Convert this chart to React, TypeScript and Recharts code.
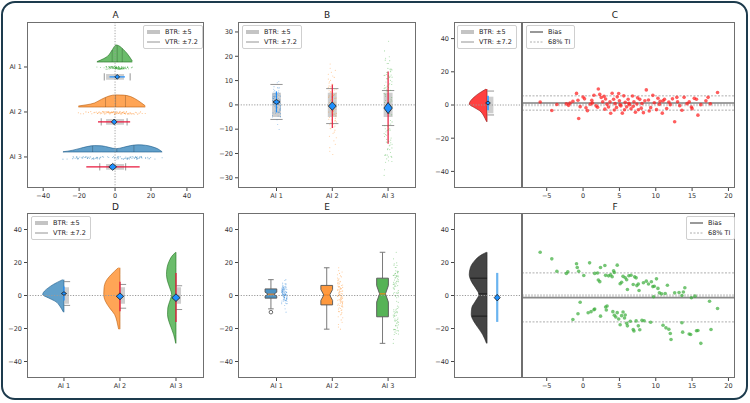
import React from "react";
import {
  ComposedChart,
  Area,
  Line,
  Scatter,
  XAxis,
  YAxis,
  ReferenceLine,
  ReferenceArea,
} from "recharts";

// groups and summary statistics
const GROUPS = ["AI 1", "AI 2", "AI 3"];
const MEANS = [1.2, -0.5, -1.3];
const TI_LOW = [-3.1, -9.5, -16.0];
const TI_HIGH = [5.5, 8.4, 13.7];
const BTR = 5;
const VTR = 7.2;
const QUARTILES = [
  [-1.6, 1.2, 4.0],
  [-5.3, 0.3, 5.8],
  [-12.5, 1.0, 10.5],
];

// kernel density outlines: [value, relative width]
const DENS_AI1 = [
  [-10.1, 0.02], [-9.5, 0.05], [-6.5, 0.19], [-3.4, 0.42], [-1.4, 0.74],
  [0.6, 1.0], [2.6, 0.92], [4.6, 0.74], [6.7, 0.5], [9.6, 0.06],
];
const DENS_AI2 = [
  [-20.4, 0.08], [-19.6, 0.1], [-15.6, 0.19], [-11.5, 0.33], [-7.5, 0.64],
  [-3.4, 0.9], [0.6, 1.0], [4.6, 0.98], [8.7, 0.86], [12.7, 0.54], [16.8, 0.1],
];
const DENS_AI3 = [
  [-29.0, 0.03], [-23.6, 0.25], [-19.6, 0.5], [-15.6, 0.75], [-11.5, 0.89],
  [-7.5, 0.86], [-3.4, 0.65], [0.6, 0.46], [4.6, 0.65], [8.7, 0.89],
  [12.7, 1.0], [16.8, 0.94], [20.8, 0.72], [24.8, 0.29], [26.2, 0.03],
];
const DENSITIES = [DENS_AI1, DENS_AI2, DENS_AI3];

// notched box plot statistics
const BOX_LO = [-8.1, -20.4, -29.0];
const BOX_Q1 = [-1.6, -5.7, -12.9];
const BOX_MED = [0.8, 0.3, 1.0];
const BOX_Q3 = [4.0, 6.1, 10.5];
const BOX_HI = [9.6, 16.8, 26.2];
const BOX_NOTCH = [1.2, 3.3, 5.0];
const FLIERS = [[-10.1], [], []];

// difference plots [x, y]
const C_POINTS = [
  [-5.9, 1.8], [-4.3, -3.3], [-3.6, 0.3], [-2.3, 0.7], [-2.0, -0.2], [-1.8, 1.1], [-1.4, 2.3], [-0.9, 7.0], [-0.7, 2.9], [-0.6, -8.1],
  [-0.4, -1.0], [0.0, 4.8], [0.2, 3.7], [0.4, -1.7], [0.6, -3.4], [1.0, 0.5], [1.2, 2.8], [1.3, 1.2], [1.5, 5.9], [1.8, -0.5],
  [2.0, -1.4], [2.1, 9.6], [2.3, 6.4], [2.5, 4.5], [2.7, 2.0], [2.9, 5.2], [3.0, -2.5], [3.1, 3.6], [3.3, 0.4], [3.5, -1.2],
  [3.7, 1.9], [3.8, -5.0], [4.0, 7.1], [4.2, 3.5], [4.3, -3.0], [4.4, 0.8], [4.6, -1.5], [4.7, 4.9], [4.9, 6.9], [5.0, 2.6],
  [5.1, 0.2], [5.2, -0.5], [5.4, -4.9], [5.6, 5.5], [5.7, -2.9], [5.8, 1.6], [6.0, -1.1], [6.2, 3.5], [6.3, 1.0], [6.4, 0.2],
  [6.6, -2.3], [6.8, 5.4], [6.9, -0.8], [7.0, 2.0], [7.2, -4.4], [7.4, 0.6], [7.5, 4.3], [7.6, -2.9], [7.8, 3.4], [8.0, -1.9],
  [8.1, 0.9], [8.3, -4.6], [8.5, 2.6], [8.7, 9.1], [9.0, 3.0], [9.1, -3.6], [9.3, -1.6], [9.6, 5.8], [9.8, 1.4], [10.1, -2.8],
  [10.3, 4.1], [10.5, 0.4], [10.6, 2.3], [10.9, -4.9], [11.0, 2.5], [11.2, 3.4], [11.5, -2.1], [11.8, 1.8], [12.0, 0.2], [12.3, 3.7],
  [12.6, -10.1], [12.9, 4.6], [13.0, 2.0], [13.3, -0.4], [13.6, -3.2], [13.9, 4.6], [14.3, 0.8], [14.6, 1.9], [14.9, -1.2], [15.0, -2.2],
  [15.3, 4.0], [15.6, 3.5], [15.8, -6.1], [16.2, 0.2], [16.9, 2.5], [17.2, 4.6], [17.5, 0.7], [18.5, 7.5],
];
const F_POINTS = [
  [-5.9, 26.2], [-4.3, 22.2], [-3.6, 14.7], [-2.3, 13.3], [-2.1, 14.4], [-0.9, 19.2], [-0.8, 17.0], [-0.6, 14.7], [0.1, 12.1], [0.9, 19.8],
  [1.6, 13.4], [2.0, 13.6], [2.1, 9.4], [2.3, 8.4], [2.4, 17.0], [3.0, 18.2], [3.1, 12.2], [3.5, 11.9], [3.8, 12.5], [4.0, 11.4],
  [4.2, 15.0], [4.3, 13.9], [4.7, 18.4], [5.1, 7.1], [5.3, 8.0], [5.5, 11.6], [5.8, 10.8], [6.0, 9.5], [6.1, 3.6], [6.3, 12.0],
  [6.6, 12.3], [6.9, 6.7], [7.1, 11.3], [7.3, 10.7], [7.4, 6.0], [7.6, 7.0], [7.7, 3.0], [8.3, 7.7], [8.7, 8.7], [9.0, 7.0],
  [9.4, 8.3], [9.6, 5.4], [9.7, -0.8], [9.8, 5.6], [10.1, 10.1], [10.3, 4.3], [10.5, 1.6], [10.8, 1.0], [11.3, 1.2], [11.6, 6.2],
  [12.6, 1.6], [13.2, 1.8], [13.6, 0.0], [13.8, 2.1], [14.0, 4.7], [14.9, -1.4], [15.4, -0.4],
  [-1.4, -14.5], [-0.7, -11.1], [-0.4, -4.1], [0.7, -10.5], [1.1, -9.8], [1.5, -8.6], [1.6, -8.2], [2.4, -12.5], [3.1, -7.0], [3.2, -8.8],
  [3.3, -6.4], [4.1, -9.8], [4.3, -12.0], [4.5, -13.0], [4.7, -10.4], [4.9, -14.2], [5.1, -17.7], [5.3, -12.2], [5.5, -10.0], [5.7, -13.6],
  [5.8, -11.8], [6.0, -16.8], [6.1, -18.4], [6.5, -15.6], [6.9, -20.6], [7.0, -21.5], [7.3, -15.4], [7.6, -18.4], [7.8, -20.8], [8.1, -15.0],
  [8.4, -15.3], [9.3, -16.2], [11.0, -18.0], [11.4, -19.6], [11.8, -20.5], [12.0, -23.0], [12.1, -26.7], [13.6, -16.5], [13.7, -22.2], [14.6, -23.3],
  [14.8, -23.6], [15.6, -21.4], [15.8, -21.2], [16.2, -29.0], [17.4, -3.5], [17.6, -20.6], [18.5, -7.9],
];
const AI2_VALUES = [
  -20.4, 3.1, -11.2, 7.5, -0.9, -19.1, 4.6, -5.6, 12.6, -2.7,
  0.7, -8.7, 16.8, -4.3, 2.2, -14.8, 9.0, -1.5, 5.5, -7.0,
  -3.2, 1.2, -12.9, 8.3, -0.4, 6.1, -9.8, 2.8, -17.6, 4.0,
  -6.3, 10.6, -2.1, 0.2, -10.4, 5.1, -4.9, 13.4, -1.3, 3.7,
  -7.9, 6.8, -13.5, 1.5, -3.8, 9.5, -0.1, -5.9, 11.3, -2.4,
  4.9, -8.2, 2.4, -16.2, 7.1, -4.1, 0.4, -6.6, 15.1, -1.8,
  3.3, -9.1, 5.8, -11.7, 1.9, -3.5, 8.6, -0.7, -5.2, 11.9,
  -2.9, 4.2, -7.4, 6.4, 1.0, -4.7, 14.2, -0.3, 3.9, -6.1,
  2.6, -9.6, 0.9, 5.3, -2.2, 7.8, -3.4, 10.1,
];
// fixed jitter offsets for the strip dots (fraction of strip width)
const JITTER = [
  0.12, -0.85, 0.47, -0.33, 0.91, -0.6, 0.05, 0.72, -0.95, 0.28, -0.14, 0.63,
  -0.51, 0.86, -0.22, 0.39, -0.77, 0.18, -0.42, 0.95, -0.05, 0.55, -0.68,
];

const STRIPS = [C_POINTS.map((p) => p[1]), AI2_VALUES, F_POINTS.map((p) => p[1])];

const FONT = "DejaVu Sans, sans-serif";
const TICK = { fontSize: 6.5, fill: "#333", fontFamily: FONT };
const GROUP_COLORS = ["#1f77b4", "#ff7f0e", "#2ca02c"];
const EDGE_COLORS = ["#1b5a8a", "#b85a0a", "#1f6f1f"];
const DOT_COLORS = ["#2b83d8", "#ff8a1c", "#3aad3a"];
const TI_COLORS = ["#1e90ff", "#e8173c", "#e8173c"];
const DIAMOND = "#1e90ff";

const AX_W = 30;
const AX_H = 18;
const PAD = 2;

const RECT = {
  A: { x: 27, y: 22, w: 177, h: 166 },
  B: { x: 238, y: 22, w: 178, h: 166 },
  CL: { x: 454, y: 22, w: 68, h: 166 },
  CR: { x: 522, y: 22, w: 213, h: 166 },
  D: { x: 27, y: 213, w: 177, h: 165 },
  E: { x: 238, y: 213, w: 178, h: 165 },
  FL: { x: 454, y: 213, w: 68, h: 165 },
  FR: { x: 522, y: 213, w: 213, h: 165 },
};

const fmt = (v: number) => (v < 0 ? `\u2212${Math.abs(v)}` : `${v}`);
const catFmt = (v: number) => GROUPS[v];

const densAt = (dens: number[][], v: number) => {
  for (let i = 1; i < dens.length; i++) {
    const [v0, w0] = dens[i - 1];
    const [v1, w1] = dens[i];
    if (v >= v0 && v <= v1) return w0 + ((w1 - w0) * (v - v0)) / (v1 - v0);
  }
  return 0;
};

const dot = (r: number, fill: string, opacity: number) => (p: any) => (
  <circle cx={p.cx} cy={p.cy} r={r} fill={fill} fillOpacity={opacity} />
);

const diamond = (hw: number, hh: number, fill: string) => (p: any) => (
  <path
    d={`M${p.cx},${p.cy - hh}L${p.cx + hw},${p.cy}L${p.cx},${p.cy + hh}L${p.cx - hw},${p.cy}Z`}
    fill={fill}
    stroke="#1a1a1a"
    strokeWidth={0.8}
  />
);

const ring = (p: any) => (
  <circle cx={p.cx} cy={p.cy} r={1.8} fill="none" stroke="#444" strokeWidth={0.8} />
);

// short straight segment drawn as a two-point series
function seg(key: string, pts: { x: number; y: number }[], stroke: string, width: number, vertical: boolean, dash?: string) {
  return (
    <Line
      key={key}
      data={pts}
      dataKey={vertical ? "x" : "y"}
      type="linear"
      stroke={stroke}
      strokeWidth={width}
      strokeDasharray={dash}
      dot={false}
      activeDot={false}
      legendType="none"
      isAnimationActive={false}
    />
  );
}

function xAxis(domain: number[], ticks: number[] | null, formatter?: (v: number) => string) {
  return (
    <XAxis
      key="xa"
      type="number"
      dataKey="x"
      domain={domain}
      ticks={ticks || undefined}
      allowDataOverflow
      interval={0}
      height={AX_H}
      tick={ticks ? TICK : false}
      tickLine={ticks ? { stroke: "#444" } : false}
      tickSize={3}
      axisLine={false}
      tickFormatter={formatter}
    />
  );
}

// vertical-layout panels run their y scale top-down, so they flip it back
function yAxis(domain: number[], ticks: number[] | null, formatter?: (v: number) => string, flip = false) {
  return (
    <YAxis
      key="ya"
      type="number"
      dataKey="y"
      domain={domain}
      ticks={ticks || undefined}
      allowDataOverflow
      reversed={flip}
      interval={0}
      width={AX_W}
      tick={ticks ? TICK : false}
      tickLine={ticks ? { stroke: "#444" } : false}
      tickSize={3}
      axisLine={false}
      tickFormatter={formatter}
    />
  );
}

function Panel({ r, layout, children }: any) {
  return (
    <>
      <div style={{ position: "absolute", left: r.x - AX_W - PAD, top: r.y - PAD }}>
        <ComposedChart
          width={r.w + AX_W + 2 * PAD}
          height={r.h + AX_H + 2 * PAD}
          layout={layout || "horizontal"}
          margin={{ top: PAD, right: PAD, bottom: PAD, left: PAD }}
        >
          {children}
        </ComposedChart>
      </div>
      <div
        style={{
          position: "absolute",
          left: r.x,
          top: r.y,
          width: r.w,
          height: r.h,
          border: "1px solid #6f6f6f",
          boxSizing: "border-box",
          pointerEvents: "none",
        }}
      />
    </>
  );
}

function LegendBox({ left, top, items }: any) {
  return (
    <div
      style={{
        position: "absolute",
        left,
        top,
        padding: "1px 4px 1px 3px",
        border: "1px solid #cfcfcf",
        borderRadius: 2,
        background: "rgba(255,255,255,0.85)",
        fontFamily: FONT,
        fontSize: 6.5,
        color: "#222",
        lineHeight: "10px",
      }}
    >
      {items.map((it: any) => (
        <div key={it.label} style={{ display: "flex", alignItems: "center", whiteSpace: "nowrap" }}>
          <svg width={13} height={6} style={{ marginRight: 5 }}>
            <line x1={0} y1={3} x2={13} y2={3} stroke={it.color} strokeWidth={it.width} strokeDasharray={it.dash} />
          </svg>
          {it.label}
        </div>
      ))}
    </div>
  );
}

function Title({ x, y, text }: any) {
  return (
    <div
      style={{
        position: "absolute",
        left: x - 20,
        top: y - 6,
        width: 40,
        textAlign: "center",
        fontFamily: FONT,
        fontSize: 9,
        color: "#222",
        lineHeight: "12px",
      }}
    >
      {text}
    </div>
  );
}

const RANGE_ITEMS = [
  { label: `BTR: \u00b1${BTR}`, color: "#c4c4c4", width: 4 },
  { label: `VTR: \u00b1${VTR}`, color: "#888", width: 0.9 },
];
const biasItems = (color: string, width: number) => [
  { label: "Bias", color, width },
  { label: "68% TI", color: "#999", width: 0.8, dash: "2 1.5" },
];

const zeroLine = (vertical: boolean) =>
  vertical ? (
    <ReferenceLine key="zero" x={0} stroke="#9a9a9a" strokeWidth={0.9} strokeDasharray="1.2 1.5" />
  ) : (
    <ReferenceLine key="zero" y={0} stroke="#9a9a9a" strokeWidth={1} strokeDasharray="1.2 1.5" />
  );

// A: horizontal raincloud rows
function panelA() {
  const rows = [2, 1, 0];
  const fills = ["#2ca02c", "#ff7f0e", "#1f77b4"];
  const edges = ["#1f6f1f", "#b85a0a", "#1b5a8a"];
  const peak = [0.38, 0.27, 0.16];
  const marks = [[2.4, 2.4], [2.8, 2.8], [3.9, 3.4]];
  const out: any[] = [
    xAxis([-49, 49.5], [-40, -20, 0, 20, 40], fmt),
    yAxis([-0.69, 3.0], [0, 1, 2], (v) => GROUPS[2 - v]),
    zeroLine(true),
  ];
  DENSITIES.forEach((dens, g) => {
    const row = rows[g];
    const base = row + 0.11;
    const err = row - 0.22;
    out.push(
      <Area
        key={`d${g}`}
        data={dens.map(([v, w]) => ({ x: v, band: [base, base + w * peak[g]] }))}
        dataKey="band"
        type="monotone"
        fill={fills[g]}
        fillOpacity={0.7}
        stroke={edges[g]}
        strokeWidth={0.6}
        dot={false}
        activeDot={false}
        isAnimationActive={false}
      />
    );
    QUARTILES[g].forEach((q, k) =>
      out.push(seg(`q${g}${k}`, [{ x: q, y: base }, { x: q, y: base + densAt(dens, q) * peak[g] }], "rgba(0,0,0,0.35)", 0.6, false))
    );
    out.push(
      <Scatter
        key={`s${g}`}
        data={STRIPS[g].map((v, i) => ({ x: v, y: row - 0.02 + JITTER[i % JITTER.length] * 0.03 }))}
        shape={dot(0.55, fills[g], 0.5)}
        isAnimationActive={false}
      />
    );
    out.push(
      <ReferenceArea key={`b${g}`} x1={-BTR} x2={BTR} y1={err - 0.065} y2={err + 0.065} fill="#bdbdbd" fillOpacity={0.75} stroke="none" />
    );
    [-1, 1].forEach((s) =>
      out.push(seg(`v${g}${s}`, [{ x: MEANS[g] + s * VTR, y: err - 0.08 }, { x: MEANS[g] + s * VTR, y: err + 0.08 }], "#8a8a8a", 0.9, false))
    );
    out.push(seg(`t${g}`, [{ x: TI_LOW[g], y: err }, { x: TI_HIGH[g], y: err }], TI_COLORS[g], 1.2, false));
    out.push(
      <Scatter key={`m${g}`} data={[{ x: MEANS[g], y: err }]} shape={diamond(marks[g][0], marks[g][1], DIAMOND)} isAnimationActive={false} />
    );
  });
  return out;
}

// B: strips with tolerance ranges
function panelB() {
  const marks = [[3.6, 2.4], [3.9, 4.2], [4.2, 5.6]];
  const out: any[] = [
    xAxis([-0.69, 2.5], [0, 1, 2], catFmt),
    yAxis([-34.2, 34.1], [-30, -20, -10, 0, 10, 20, 30], fmt),
    zeroLine(false),
  ];
  STRIPS.forEach((vals, g) => {
    out.push(<ReferenceArea key={`b${g}`} x1={g - 0.08} x2={g + 0.08} y1={-BTR} y2={BTR} fill="#bdbdbd" fillOpacity={0.75} stroke="none" />);
    [-1, 1].forEach((s) =>
      out.push(seg(`v${g}${s}`, [{ x: g - 0.11, y: MEANS[g] + s * VTR }, { x: g + 0.11, y: MEANS[g] + s * VTR }], "#8a8a8a", 0.9, false))
    );
    out.push(
      <Scatter
        key={`s${g}`}
        data={vals.map((v, i) => ({ x: g + JITTER[i % JITTER.length] * 0.075, y: v }))}
        shape={dot(0.55, DOT_COLORS[g], 0.45)}
        isAnimationActive={false}
      />
    );
    out.push(seg(`t${g}`, [{ x: g, y: TI_LOW[g] }, { x: g, y: TI_HIGH[g] }], TI_COLORS[g], 1.2, false));
    out.push(
      <Scatter key={`m${g}`} data={[{ x: g, y: MEANS[g] }]} shape={diamond(marks[g][0], marks[g][1], DIAMOND)} isAnimationActive={false} />
    );
  });
  return out;
}

// C left: half violin of AI 1
function panelCL() {
  return [
    xAxis([-0.52, 0.55], null),
    yAxis([-50, 50], [-40, -20, 0, 20, 40], fmt, true),
    zeroLine(false),
    <Area
      key="vio"
      data={DENS_AI1.map(([v, w]) => ({ y: v, band: [-w * 0.28, 0] }))}
      dataKey="band"
      type="monotone"
      fill="#ff0000"
      fillOpacity={0.75}
      stroke="#8a1010"
      strokeWidth={0.6}
      dot={false}
      activeDot={false}
      isAnimationActive={false}
    />,
    <ReferenceArea key="btr" x1={0} x2={0.1} y1={-BTR} y2={BTR} fill="#bdbdbd" fillOpacity={0.75} stroke="none" />,
    seg("v1", [{ x: 0, y: MEANS[0] + VTR }, { x: 0.11, y: MEANS[0] + VTR }], "#8a8a8a", 0.9, true),
    seg("v2", [{ x: 0, y: MEANS[0] - VTR }, { x: 0.11, y: MEANS[0] - VTR }], "#8a8a8a", 0.9, true),
    seg("ti", [{ x: 0.015, y: TI_LOW[0] }, { x: 0.015, y: TI_HIGH[0] }], TI_COLORS[0], 1.5, true),
    <Scatter key="m" data={[{ x: 0.015, y: MEANS[0] }]} shape={diamond(2.4, 2, DIAMOND)} isAnimationActive={false} />,
  ];
}

// C right / F right: differences against reference
function panelDiff(points: number[][], g: number, color: string, biasColor: string, biasWidth: number) {
  return [
    xAxis([-8.4, 20.9], [-5, 0, 5, 10, 15, 20], fmt),
    yAxis([-50, 50], null),
    <ReferenceLine key="zero" y={0} stroke="#d6d6d6" strokeWidth={2.5} strokeDasharray="2 1" />,
    <ReferenceLine key="hi" y={TI_HIGH[g]} stroke="#999" strokeWidth={0.8} strokeDasharray="2 1.5" />,
    <ReferenceLine key="lo" y={TI_LOW[g]} stroke="#999" strokeWidth={0.8} strokeDasharray="2 1.5" />,
    <ReferenceLine key="bias" y={MEANS[g]} stroke={biasColor} strokeWidth={biasWidth} />,
    <Scatter
      key="pts"
      data={points.map(([x, y]) => ({ x, y }))}
      shape={dot(1.8, color, 0.7)}
      isAnimationActive={false}
    />,
  ];
}

// D: half violins per group
function panelD() {
  const widths = [0.38, 0.29, 0.17];
  const marks = [[2.6, 1.8], [3.7, 3.4], [4.1, 3.8]];
  const out: any[] = [
    xAxis([-0.66, 2.5], [0, 1, 2], catFmt),
    yAxis([-50, 50], [-40, -20, 0, 20, 40], fmt, true),
    zeroLine(false),
  ];
  DENSITIES.forEach((dens, g) => {
    out.push(
      <Area
        key={`vio${g}`}
        data={dens.map(([v, w]) => ({ y: v, band: [g - w * widths[g], g] }))}
        dataKey="band"
        type="monotone"
        fill={GROUP_COLORS[g]}
        fillOpacity={0.7}
        stroke={EDGE_COLORS[g]}
        strokeWidth={0.6}
        dot={false}
        activeDot={false}
        isAnimationActive={false}
      />
    );
    out.push(<ReferenceArea key={`b${g}`} x1={g} x2={g + 0.09} y1={-BTR} y2={BTR} fill="#bdbdbd" fillOpacity={0.75} stroke="none" />);
    [-1, 1].forEach((s) =>
      out.push(seg(`v${g}${s}`, [{ x: g, y: MEANS[g] + s * VTR }, { x: g + 0.11, y: MEANS[g] + s * VTR }], "#8a8a8a", 0.9, true))
    );
    out.push(seg(`t${g}`, [{ x: g, y: TI_LOW[g] }, { x: g, y: TI_HIGH[g] }], TI_COLORS[g], 1.3, true));
    out.push(
      <Scatter key={`m${g}`} data={[{ x: g, y: MEANS[g] }]} shape={diamond(marks[g][0], marks[g][1], DIAMOND)} isAnimationActive={false} />
    );
  });
  return out;
}

// E: notched box plots with strips
function panelE() {
  const out: any[] = [
    xAxis([-0.69, 2.5], [0, 1, 2], catFmt),
    yAxis([-50, 50], [-40, -20, 0, 20, 40], fmt, true),
    zeroLine(false),
  ];
  STRIPS.forEach((vals, g) => {
    const c = g - 0.1;
    const bw = 0.105;
    const m = BOX_MED[g];
    const n = BOX_NOTCH[g];
    const q1 = BOX_Q1[g];
    const q3 = BOX_Q3[g];
    const full = [c - bw, c + bw];
    const half = [c - bw / 2, c + bw / 2];
    out.push(seg(`wl${g}`, [{ x: c, y: BOX_LO[g] }, { x: c, y: q1 }], "#7a7a7a", 1, true));
    out.push(seg(`wh${g}`, [{ x: c, y: q3 }, { x: c, y: BOX_HI[g] }], "#7a7a7a", 1, true));
    out.push(seg(`cl${g}`, [{ x: c - 0.05, y: BOX_LO[g] }, { x: c + 0.05, y: BOX_LO[g] }], "#7a7a7a", 1, true));
    out.push(seg(`ch${g}`, [{ x: c - 0.05, y: BOX_HI[g] }, { x: c + 0.05, y: BOX_HI[g] }], "#7a7a7a", 1, true));
    out.push(
      <Area
        key={`box${g}`}
        data={[
          { y: q1, band: full },
          { y: m - n, band: full },
          { y: m, band: half },
          { y: m + n, band: full },
          { y: q3, band: full },
        ]}
        dataKey="band"
        type="linear"
        fill={GROUP_COLORS[g]}
        fillOpacity={0.8}
        stroke="none"
        dot={false}
        activeDot={false}
        isAnimationActive={false}
      />
    );
    out.push(
      <Line
        key={`edge${g}`}
        data={[
          { x: c - bw, y: q1 },
          { x: c + bw, y: q1 },
          { x: c + bw, y: m - n },
          { x: c + bw / 2, y: m },
          { x: c + bw, y: m + n },
          { x: c + bw, y: q3 },
          { x: c - bw, y: q3 },
          { x: c - bw, y: m + n },
          { x: c - bw / 2, y: m },
          { x: c - bw, y: m - n },
          { x: c - bw, y: q1 },
        ]}
        dataKey="x"
        type="linear"
        stroke="#555"
        strokeWidth={0.9}
        dot={false}
        activeDot={false}
        isAnimationActive={false}
      />
    );
    out.push(seg(`med${g}`, [{ x: c - bw / 2, y: m }, { x: c + bw / 2, y: m }], "#ff7f0e", 1, true));
    if (FLIERS[g].length) {
      out.push(<Scatter key={`f${g}`} data={FLIERS[g].map((v) => ({ x: c, y: v }))} shape={ring} isAnimationActive={false} />);
    }
    out.push(
      <Scatter
        key={`s${g}`}
        data={vals.map((v, i) => ({ x: g + 0.14 + JITTER[i % JITTER.length] * 0.05, y: v }))}
        shape={dot(0.55, DOT_COLORS[g], 0.45)}
        isAnimationActive={false}
      />
    );
  });
  return out;
}

// F left: pooled half violin of AI 3 with its interval
function panelFL() {
  const out: any[] = [
    xAxis([-0.52, 0.55], null),
    yAxis([-50, 50], [-40, -20, 0, 20, 40], fmt, true),
    zeroLine(false),
    <Area
      key="vio"
      data={DENS_AI3.map(([v, w]) => ({ y: v, band: [-w * 0.28, 0] }))}
      dataKey="band"
      type="monotone"
      fill="#3a3a3a"
      fillOpacity={0.95}
      stroke="#222"
      strokeWidth={0.6}
      dot={false}
      activeDot={false}
      isAnimationActive={false}
    />,
  ];
  QUARTILES[2].forEach((q, k) =>
    out.push(seg(`q${k}`, [{ x: -densAt(DENS_AI3, q) * 0.28, y: q }, { x: 0, y: q }], "#111", 0.8, true))
  );
  out.push(seg("ti", [{ x: 0.16, y: TI_LOW[2] }, { x: 0.16, y: TI_HIGH[2] }], "#6ab4f0", 2.2, true));
  out.push(<Scatter key="m" data={[{ x: 0.16, y: MEANS[2] }]} shape={diamond(3, 3.3, DIAMOND)} isAnimationActive={false} />);
  return out;
}

export default function App() {
  return (
    <div style={{ position: "absolute", left: 0, top: 0, width: 750, height: 403, background: "#fff", overflow: "hidden" }}>
      <div
        style={{
          position: "absolute",
          left: 1,
          top: 1,
          width: 747,
          height: 399,
          border: "2px solid #1d3b4d",
          borderRadius: 14,
          boxSizing: "border-box",
        }}
      />
      <Panel r={RECT.A}>{panelA()}</Panel>
      <Panel r={RECT.B}>{panelB()}</Panel>
      <Panel r={RECT.CL} layout="vertical">{panelCL()}</Panel>
      <Panel r={RECT.CR}>{panelDiff(C_POINTS, 0, "#ff1a1a", "#444", 1.1)}</Panel>
      <Panel r={RECT.D} layout="vertical">{panelD()}</Panel>
      <Panel r={RECT.E} layout="vertical">{panelE()}</Panel>
      <Panel r={RECT.FL} layout="vertical">{panelFL()}</Panel>
      <Panel r={RECT.FR}>{panelDiff(F_POINTS, 2, "#3aad3a", "#8a8a8a", 1.6)}</Panel>

      <Title x={115.5} y={15} text="A" />
      <Title x={327} y={15} text="B" />
      <Title x={615} y={15} text="C" />
      <Title x={115.5} y={207} text="D" />
      <Title x={327} y={207} text="E" />
      <Title x={615} y={207} text="F" />

      <LegendBox left={143} top={25} items={RANGE_ITEMS} />
      <LegendBox left={242} top={25} items={RANGE_ITEMS} />
      <LegendBox left={457} top={25} items={RANGE_ITEMS} />
      <LegendBox left={526} top={25} items={biasItems("#444", 1.1)} />
      <LegendBox left={31} top={216} items={RANGE_ITEMS} />
      <LegendBox left={686} top={216} items={biasItems("#999", 2)} />
    </div>
  );
}
